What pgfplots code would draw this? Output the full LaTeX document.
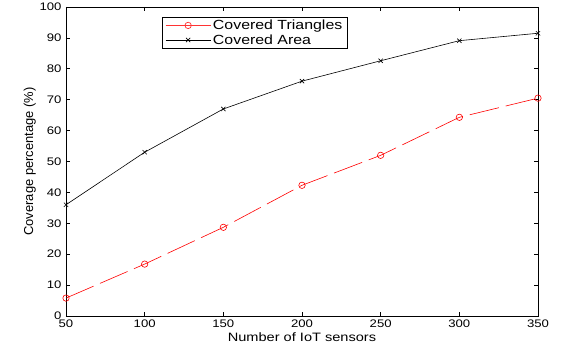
\documentclass[border=0pt]{standalone}
\usepackage{pgfplots}
\pgfplotsset{compat=1.18}
\usepackage{fontspec}
\setmainfont{Liberation Sans}
\newfontfamily\wide[FakeStretch=1.2]{Liberation Sans}
\begin{document}
\begin{tikzpicture}
\begin{axis}[
  scale only axis,
  width=472bp, height=309bp,
  xmin=50, xmax=350, ymin=0, ymax=100,
  xtick={50,100,...,350}, ytick={0,10,...,100},
  tick align=inside,
  major tick length=4bp,
  axis line style={line width=0.8bp},
  tick style={line width=0.6bp, black},
  /pgf/number format/assume math mode=true,
  ticklabel style={font=\wide\fontsize{11}{12}\selectfont},
  xticklabel style={yshift=0bp},
  yticklabel style={xshift=-1bp},
  xlabel={Number of IoT sensors},
  ylabel={Coverage percentage (\%)},
  xlabel style={font=\wide\fontsize{12.2}{13}\selectfont, yshift=1bp},
  ylabel style={font=\fontsize{13}{14}\selectfont, yshift=-3bp},
  legend style={at={(0.2034,0.969)}, anchor=north west, font=\wide\fontsize{13.3}{14}\selectfont, draw=black, line width=0.6bp, inner xsep=3bp, inner ysep=1bp, row sep=-0.5bp},
  legend cell align=left,
  legend image code/.code={%
    \draw[#1, mark=none] (0bp,0bp) -- (45bp,0bp);
    \draw[#1, draw=none] plot coordinates {(22.5bp,0bp)};},
]
\addlegendimage{red!80, solid, line width=0.7bp, mark=o, mark size=3.2bp}
\addlegendentry{Covered Triangles}
\addlegendimage{black, line width=0.6bp, mark=x, mark size=3bp}
\addlegendentry{Covered Area}
\addplot[red, line width=0.6bp, dash pattern=on 30bp off 7bp, mark=o, mark size=3.2bp, mark options={solid}, forget plot] coordinates {
(50,5.8) (100,16.8) (150,28.7) (200,42.3) (250,52.0) (300,64.3) (350,70.5)};
\addplot[black, line width=0.6bp, mark=x, mark size=3bp, forget plot] coordinates {
(50,36.0) (100,53.0) (150,67.0) (200,76.0) (250,82.6) (300,89.1) (350,91.5)};
\end{axis}
\pgfresetboundingbox
\path (current axis.south west) ++(-66bp,-40bp) coordinate (bl);
\path (current axis.north east) ++(25bp,7bp) coordinate (tr);
\path (bl) rectangle (tr);
\end{tikzpicture}
\end{document}
